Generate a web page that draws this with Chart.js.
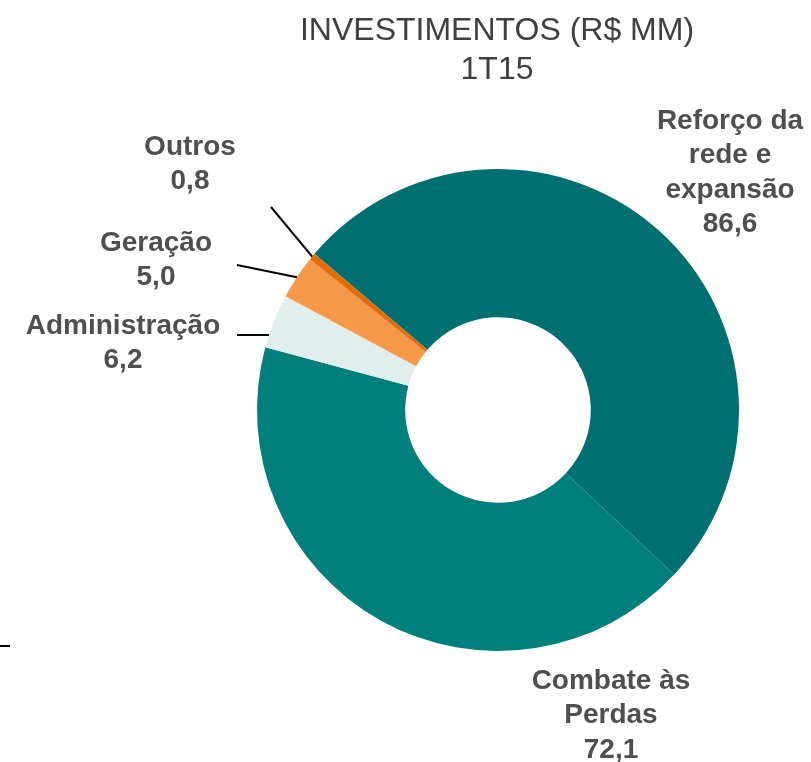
<!DOCTYPE html>
<html>
<head>
<meta charset="utf-8">
<script src="https://cdn.jsdelivr.net/npm/chart.js@4.4.1/dist/chart.umd.min.js"></script>
<style>
  html, body { margin: 0; padding: 0; background: #fff; }
  #wrap { width: 811px; height: 762px; position: relative; }
</style>
</head>
<body>
<div id="wrap"><canvas id="chart" width="811" height="762"></canvas></div>
<script>
// data
const categories = ['Reforço da rede e expansão', 'Combate às Perdas', 'Administração', 'Geração', 'Outros'];
const values = [86.6, 72.1, 6.2, 5.0, 0.8];
const valueLabels = ['86,6', '72,1', '6,2', '5,0', '0,8'];
const sliceColors = ['#006f71', '#007f7c', '#e0efeb', '#f59848', '#e36c0a'];

// label text per slice (lines), anchor for the text, and leader-line start (null = no line)
const labelLines = [
    ['Reforço da', 'rede e', 'expansão', valueLabels[0]],
    ['Combate às', 'Perdas', valueLabels[1]],
    ['Administração', valueLabels[2]],
    ['Geração', valueLabels[3]],
    ['Outros', valueLabels[4]]
];
const labelAnchors = [[730, 121], [611, 681], [123, 326], [156, 243], [190, 147]];
const leaderStarts = [null, null, [237, 335], [237, 265], [271, 207]];
const leaderFlat = [false, false, true, false, false];

const labelPlugin = {
    id: 'sliceLabels',
    afterDraw(chart) {
        const ctx = chart.ctx;
        const arcs = chart.getDatasetMeta(0).data;
        ctx.save();
        // leader lines
        ctx.strokeStyle = '#000';
        ctx.lineWidth = 2;
        arcs.forEach((arc, i) => {
            if (!leaderStarts[i]) return;
            const p = arc.getProps(['x', 'y', 'startAngle', 'endAngle', 'outerRadius']);
            const [sx, sy] = leaderStarts[i];
            let ex, ey;
            if (leaderFlat[i]) {
                // horizontal line meeting the outer edge
                ey = sy;
                ex = p.x - Math.sqrt(p.outerRadius * p.outerRadius - (sy - p.y) * (sy - p.y));
            } else {
                const mid = (p.startAngle + p.endAngle) / 2;
                ex = p.x + Math.cos(mid) * p.outerRadius;
                ey = p.y + Math.sin(mid) * p.outerRadius;
            }
            ctx.beginPath();
            ctx.moveTo(sx, sy);
            ctx.lineTo(ex, ey);
            ctx.stroke();
        });
        // stray rule at lower left, as in the slide
        ctx.beginPath();
        ctx.moveTo(0, 646);
        ctx.lineTo(10, 646);
        ctx.stroke();

        // labels
        ctx.fillStyle = '#4f4f4f';
        ctx.font = 'bold 28px "Liberation Sans", Arial, sans-serif';
        ctx.textAlign = 'center';
        ctx.textBaseline = 'middle';
        labelLines.forEach((lines, i) => {
            const [x, y] = labelAnchors[i];
            lines.forEach((t, j) => ctx.fillText(t, x, y + j * 34.5));
        });

        // title
        ctx.fillStyle = '#404040';
        ctx.font = '32px "Liberation Sans", Arial, sans-serif';
        ctx.fillText('INVESTIMENTOS (R$ MM)', 497, 31);
        ctx.fillText('1T15', 497, 70);
        ctx.restore();
    }
};

new Chart(document.getElementById('chart'), {
    type: 'doughnut',
    data: {
        labels: categories,
        datasets: [{
            data: values,
            backgroundColor: sliceColors,
            borderWidth: 0
        }]
    },
    options: {
        responsive: false,
        animation: false,
        rotation: -49.6,
        cutout: '38.5%',
        layout: {
            padding: { left: 257, right: 72, top: 169, bottom: 111 }
        },
        plugins: {
            legend: { display: false },
            tooltip: { enabled: false }
        }
    },
    plugins: [labelPlugin]
});
</script>
</body>
</html>
